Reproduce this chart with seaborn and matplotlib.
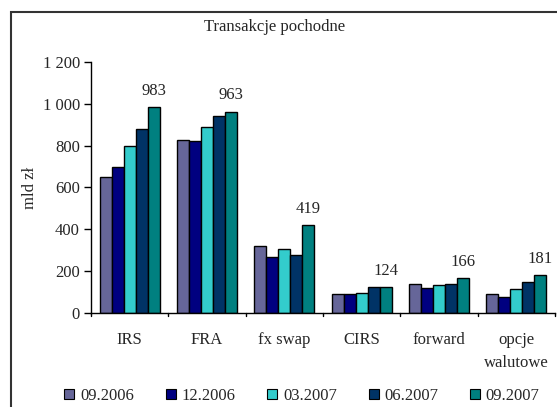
import matplotlib
matplotlib.use("Agg")
import matplotlib.pyplot as plt
import seaborn as sns
import pandas as pd
from matplotlib.patches import Rectangle, Patch
from matplotlib.ticker import FuncFormatter

categories = ["IRS", "FRA", "fx swap", "CIRS", "forward", "opcje\nwalutowe"]
periods = ["09.2006", "12.2006", "03.2007", "06.2007", "09.2007"]
v_0906 = [650, 825, 320, 90, 140, 90]
v_1206 = [700, 820, 270, 90, 120, 78]
v_0307 = [800, 890, 305, 97, 135, 115]
v_0607 = [880, 940, 275, 122, 140, 150]
v_0907 = [983, 963, 419, 124, 166, 181]
colors = ["#666699", "#000080", "#33CCCC", "#003366", "#008080"]

series = [v_0906, v_1206, v_0307, v_0607, v_0907]
rows = []
for p, vals in zip(periods, series):
    for c, v in zip(categories, vals):
        rows.append({"kat": c, "okres": p, "val": v})
df = pd.DataFrame(rows)

sns.set_theme(style="white")
plt.rcParams["font.family"] = ["Liberation Serif", "DejaVu Serif"]
FS = 12

fig = plt.figure(figsize=(5.57, 4.07), dpi=100)
ax = fig.add_axes([91/557, 1-313/407, (555-91)/557, (313-62)/407])

sns.barplot(data=df, x="kat", y="val", hue="okres", order=categories,
            hue_order=periods, palette=colors, width=0.78,
            edgecolor="black", linewidth=1.0, saturation=1, ax=ax, legend=False)

ax.set_ylim(0, 1200)
ax.set_xlim(-0.5, len(categories) - 0.5)
ax.set_yticks(range(0, 1201, 200))
ax.yaxis.set_major_formatter(FuncFormatter(lambda v, p: f"{int(v):,}".replace(",", " ")))
ax.set_xticks(range(len(categories)))
ax.set_xticklabels(categories, fontsize=FS, linespacing=1.55)
ax.tick_params(axis="x", length=0, pad=14)
for i in range(len(categories) + 1):
    ax.plot([i - 0.5, i - 0.5], [0, -15], color="black", lw=1, clip_on=False,
            transform=ax.transData)
ax.tick_params(axis="y", direction="out", length=5, width=1, color="black",
               labelsize=FS, left=True, pad=3)
ax.set_xlabel("")
ax.set_ylabel("mld zł", fontsize=FS, labelpad=3)
for s in ["top", "right"]:
    ax.spines[s].set_visible(False)
for s in ["left", "bottom"]:
    ax.spines[s].set_color("black")
    ax.spines[s].set_linewidth(1)

# labels over last bar
last = ax.containers[-1]
ax.bar_label(last, labels=[str(v) for v in v_0907], padding=6, fontsize=FS)

fig.text(275/557, 1-27/407, "Transakcje pochodne", ha="center", va="center", fontsize=FS)

handles = [Patch(facecolor=c, edgecolor="black", linewidth=0.8) for c in colors]
fig.legend(handles, periods, loc="center", bbox_to_anchor=(302/557, 1-396/407),
           ncol=5, frameon=False, fontsize=FS, handlelength=0.6, handleheight=0.6,
           handletextpad=0.35, columnspacing=1.9)

fig.patches.append(Rectangle((11/557, -0.1), 1.2, (1-12/407) + 0.1, transform=fig.transFigure,
                             fill=False, edgecolor="#333333", linewidth=1.5))

fig.savefig("out.png", dpi=100)
